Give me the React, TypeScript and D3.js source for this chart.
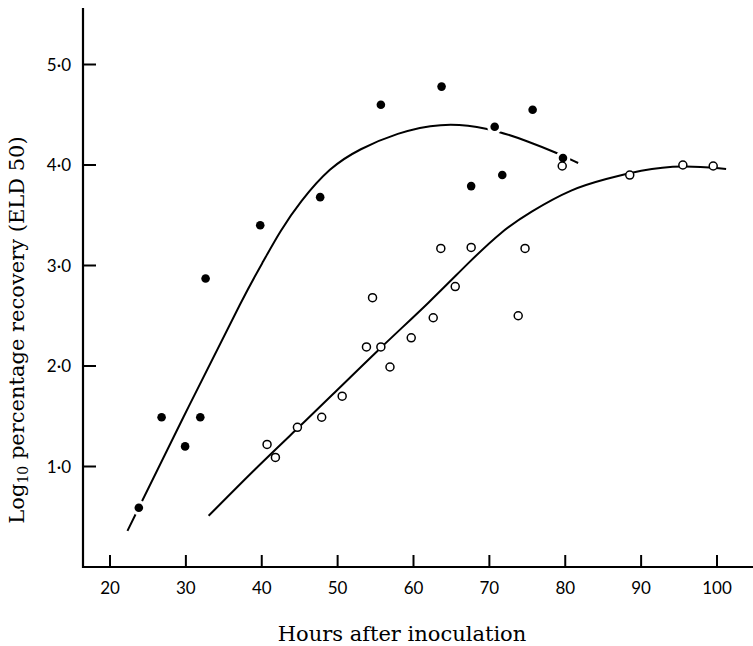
import React from "react";
import * as d3 from "d3";

// ---- Data ----
const filledHours = [23.8, 26.8, 29.9, 31.9, 32.6, 39.8, 47.7, 55.7, 63.7, 67.6, 70.7, 71.7, 75.7, 79.7];
const filledValues = [0.59, 1.49, 1.2, 1.49, 2.87, 3.4, 3.68, 4.6, 4.78, 3.79, 4.38, 3.9, 4.55, 4.07];

const openHours = [40.7, 41.8, 44.7, 47.9, 50.6, 53.8, 54.6, 55.7, 56.9, 59.7, 62.6, 63.6, 65.5, 67.6, 73.8, 74.7, 79.6, 88.5, 95.5, 99.5];
const openValues = [1.22, 1.09, 1.39, 1.49, 1.7, 2.19, 2.68, 2.19, 1.99, 2.28, 2.48, 3.17, 2.79, 3.18, 2.5, 3.17, 3.99, 3.9, 4.0, 3.99];

// fitted curves (hand-drawn in the original)
const filledCurveHours = [22.3, 30.5, 38.0, 40.2, 42.4, 45.0, 49.0, 52.9, 57.8, 63.5, 69.6, 75.3, 78.9, 81.7];
const filledCurveValues = [0.36, 1.62, 2.75, 3.04, 3.34, 3.63, 3.98, 4.16, 4.32, 4.42, 4.38, 4.23, 4.12, 4.02];

const openCurveHours = [33.0, 39.3, 44.6, 49.0, 55.6, 62.2, 67.4, 71.6, 75.3, 81.0, 85.4, 89.8, 95.5, 101.2];
const openCurveValues = [0.51, 0.99, 1.37, 1.69, 2.18, 2.64, 3.04, 3.34, 3.53, 3.77, 3.86, 3.95, 4.0, 3.96];

const xTicks = [20, 30, 40, 50, 60, 70, 80, 90, 100];
const yTicks = [1, 2, 3, 4, 5];
const yTickLabels = ["1·0", "2·0", "3·0", "4·0", "5·0"];

const W = 753;
const H = 646;

export default function App() {
  const x = d3.scaleLinear().domain([20, 100]).range([110, 717]);
  const y = d3.scaleLinear().domain([0, 5]).range([567, 64.5]);
  const axisX = 83;
  const axisY = y(0);

  const line = d3
    .line<[number, number]>()
    .x((d) => x(d[0]))
    .y((d) => y(d[1]))
    .curve(d3.curveBasis);

  const filledCurve = filledCurveHours.map((h, i) => [h, filledCurveValues[i]] as [number, number]);
  const openCurve = openCurveHours.map((h, i) => [h, openCurveValues[i]] as [number, number]);

  const tickFont = "Lato, 'Open Sans', sans-serif";
  const titleFont = "'DejaVu Serif', serif";

  return (
    <svg
      width={W}
      height={H}
      viewBox={`0 0 ${W} ${H}`}
      style={{ position: "absolute", left: 0, top: 0, background: "#fff" }}
    >
      <rect x={0} y={0} width={W} height={H} fill="#fff" />
      {/* axes */}
      <line x1={axisX} y1={8} x2={axisX} y2={axisY + 1} stroke="#000" strokeWidth={2.2} />
      <line x1={axisX - 1} y1={axisY} x2={W} y2={axisY} stroke="#000" strokeWidth={2.2} />
      {yTicks.map((t, i) => (
        <g key={"y" + t}>
          <line x1={axisX} x2={axisX + 13} y1={y(t)} y2={y(t)} stroke="#000" strokeWidth={2} />
          <text
            x={71}
            y={y(t)}
            dy="0.36em"
            textAnchor="end"
            fontFamily={tickFont}
            fontSize={17}
            fill="#000"
          >
            {yTickLabels[i]}
          </text>
        </g>
      ))}
      {xTicks.map((t) => (
        <g key={"x" + t}>
          <line x1={x(t)} x2={x(t)} y1={axisY} y2={axisY - 12} stroke="#000" strokeWidth={2} />
          <text
            x={x(t)}
            y={594}
            textAnchor="middle"
            fontFamily={tickFont}
            fontSize={17}
            fill="#000"
          >
            {t}
          </text>
        </g>
      ))}

      {/* curves */}
      <path d={line(filledCurve) || ""} fill="none" stroke="#000" strokeWidth={2} />
      <path d={line(openCurve) || ""} fill="none" stroke="#000" strokeWidth={2} />

      {/* filled points with white halo (gaps in the curve) */}
      {filledHours.map((h, i) => (
        <g key={"f" + i}>
          <circle cx={x(h)} cy={y(filledValues[i])} r={7.5} fill="#fff" />
          <circle cx={x(h)} cy={y(filledValues[i])} r={4.3} fill="#000" />
        </g>
      ))}
      {/* open points */}
      {openHours.map((h, i) => (
        <circle
          key={"o" + i}
          cx={x(h)}
          cy={y(openValues[i])}
          r={4}
          fill="#fff"
          stroke="#000"
          strokeWidth={1.5}
        />
      ))}

      {/* titles */}
      <text
        x={402}
        y={641}
        textAnchor="middle"
        fontFamily={titleFont}
        fontSize={21}
        fill="#000"
      >
        Hours after inoculation
      </text>
      <text
        transform={`translate(24, 330) rotate(-90)`}
        textAnchor="middle"
        fontFamily={titleFont}
        fontSize={21}
        fill="#000"
      >
        Log
        <tspan fontSize={14} dy={4}>10</tspan>
        <tspan dy={-4}> percentage recovery (ELD 50)</tspan>
      </text>
    </svg>
  );
}
